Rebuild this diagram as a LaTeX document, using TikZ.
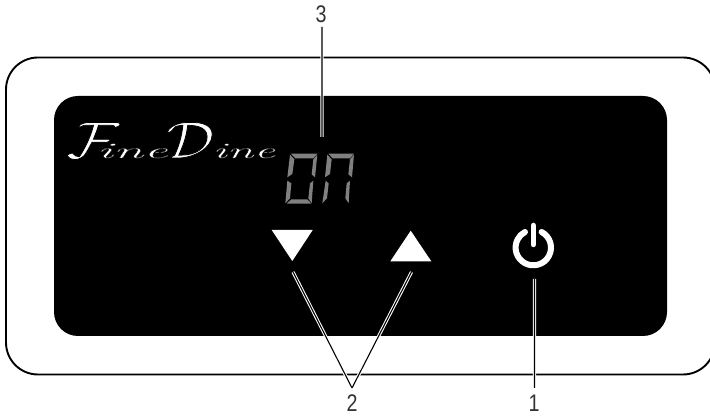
\documentclass[tikz,border=0pt]{standalone}
\usepackage{fontspec}
\usepackage{graphicx}
\newfontfamily\lblfont[FakeStretch=0.82]{Liberation Sans}
\newcommand{\thinglyph}[2]{\special{pdf:code q 2 Tr 0 G #1 w}#2\special{pdf:code Q}}
\begin{document}
\begin{tikzpicture}[x=1pt,y=-1pt,
  seg/.style={fill=segcol,draw=none},
  halo/.style={draw=white,line width=3.2pt},
  leader/.style={draw=black,line width=1.1pt},
  lbl/.style={font=\lblfont\fontsize{24}{24}\selectfont,text=black!80,inner sep=0pt,anchor=center},
  tri/.style={fill=white,draw=none}]
\definecolor{segcol}{gray}{0.5}
\useasboundingbox (0,0) rectangle (710,419);
\fill[white] (0,0) rectangle (710,419);
\begin{scope}
\clip (0,0) rectangle (710,419);
\draw[line width=1.9pt,rounded corners=32pt] (6,57.5) rectangle (715,374.5);
\end{scope}
\fill[black,rounded corners=24pt] (54,96) rectangle (667,336);
% logo
\node[text=white,inner sep=0pt,anchor=base west] (logo) at (66,158)
  {\scalebox{6.5}[5.2]{\thinglyph{0.14}{$\mathcal{F}$}}\kern-23pt\scalebox{2.5}[1]{\fontsize{22}{22}\selectfont\thinglyph{0.12}{\textit{ine}}}\kern-2pt\scalebox{6}[5.2]{\thinglyph{0.14}{$\mathcal{D}$}}\kern-2pt\scalebox{2.2}[1]{\fontsize{22}{22}\selectfont\thinglyph{0.12}{\textit{ine}}}};
% seven segment
\begin{scope}[shift={(270,140)},x=0.3333pt,y=-0.3333pt]
\fill[seg] (62,41)--(142,41)--(130,55)--(76,55)--cycle;
\fill[seg] (60,44)--(73,58)--(67,102)--(52,112)--cycle;
\fill[seg] (142,44)--(130,58)--(125,103)--(135,112)--cycle;
\fill[seg] (52,122)--(64,130)--(60,175)--(46,190)--cycle;
\fill[seg] (130,122)--(120,130)--(115,175)--(125,190)--cycle;
\fill[seg] (50,191)--(64,178)--(112,178)--(124,191)--cycle;
\fill[seg] (175,41)--(252,41)--(240,55)--(188,55)--cycle;
\fill[seg] (172,44)--(185,58)--(180,102)--(165,112)--cycle;
\fill[seg] (252,44)--(240,58)--(235,103)--(246,112)--cycle;
\fill[seg] (167,122)--(176,130)--(171,175)--(157,190)--cycle;
\fill[seg] (240,122)--(230,130)--(226,175)--(236,190)--cycle;
\end{scope}
% triangles
\fill[tri] (271.7,230)--(312.7,230)--(292.3,261)--cycle;
\fill[tri] (390.3,261.3)--(431.3,261.3)--(410.7,230.7)--cycle;
% power
\draw[white,line width=6pt,line cap=round] (533.3,247.6) ++(-62:17.7) arc[start angle=-62,end angle=242,radius=17.7];
\draw[white,line width=5.5pt,line cap=round] (533.3,225.5) -- (533.3,244.5);
% labels and leaders
\node[lbl] (n3) at (321,14.5) {3};
\node[lbl] (n2) at (352,403.5) {2};
\node[lbl] (n1) at (534,403.5) {1};
\coordinate (t3a) at (322,27);
\coordinate (t3b) at (322,137);
\coordinate (apex) at (352,388);
\coordinate (down) at (293,272);
\coordinate (up) at (411.5,272);
\coordinate (t1a) at (534.5,388);
\coordinate (t1b) at (534.5,279);
\draw[halo] (t3a)--(t3b) (apex)--(down) (apex)--(up) (t1a)--(t1b);
\draw[leader] (t3a)--(t3b) (apex)--(down) (apex)--(up) (t1a)--(t1b);
\end{tikzpicture}
\end{document}
